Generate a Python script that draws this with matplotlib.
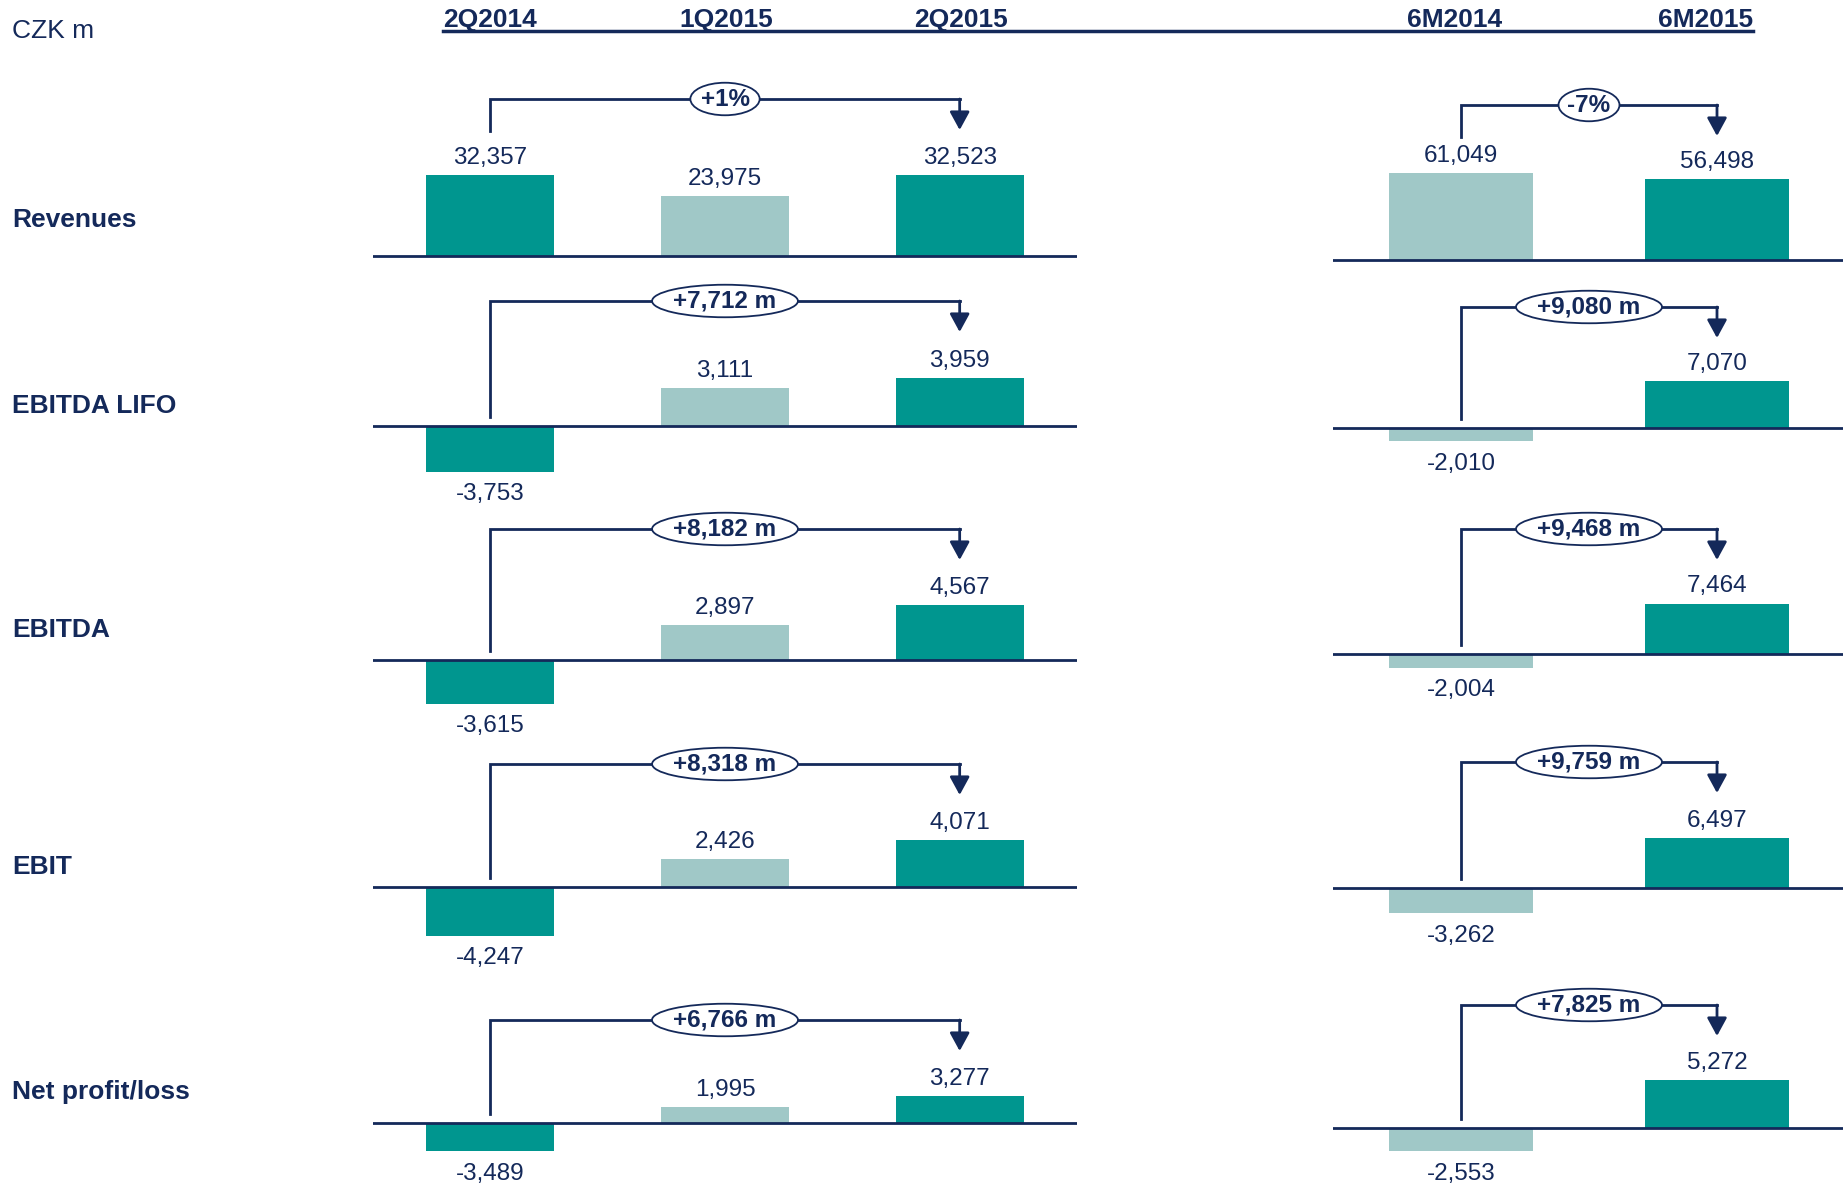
import matplotlib
matplotlib.use('Agg')
import matplotlib.pyplot as plt
from matplotlib.lines import Line2D

plt.rcParams['font.family'] = ['Liberation Sans', 'DejaVu Sans']

W, H = 1843, 1185
NAVY = '#14295a'
DARK = '#00968f'
LIGHT = '#a0c8c7'

# data (CZK m)
metrics = ['Revenues', 'EBITDA LIFO', 'EBITDA', 'EBIT', 'Net profit/loss']
quarters = ['2Q2014', '1Q2015', '2Q2015']
halves = ['6M2014', '6M2015']

q_2q2014 = [32357, -3753, -3615, -4247, -3489]
q_1q2015 = [23975, 3111, 2897, 2426, 1995]
q_2q2015 = [32523, 3959, 4567, 4071, 3277]
h_6m2014 = [61049, -2010, -2004, -3262, -2553]
h_6m2015 = [56498, 7070, 7464, 6497, 5272]

q_change = ['+1%', '+7,712 m', '+8,182 m', '+8,318 m', '+6,766 m']
h_change = ['-7%', '+9,080 m', '+9,468 m', '+9,759 m', '+7,825 m']

# layout, in pixels
q_base = [256, 426, 660, 887, 1123]
h_base = [260, 428, 654, 888, 1128]
q_scale = [400, 82, 83, 87.5, 123]   # CZK m per pixel
h_scale = [700, 152, 148, 130, 110]
q_bracket = [157, 125, 131, 123, 103]
h_bracket = [155, 121, 125, 126, 123]
label_base = [227, 413, 637, 874, 1099]

fig = plt.figure(figsize=(W / 100, H / 100), dpi=100)


def panel(x0, x1, base, scale, ncat):
    top, bot = base - 200, base + 60
    ax = fig.add_axes([x0 / W, 1 - bot / H, (x1 - x0) / W, (bot - top) / H])
    ax.set_xlim(-0.5, ncat - 0.5)
    ax.set_ylim(-60 * scale, 200 * scale)
    ax.axis('off')
    return ax


def draw(ax, vals, colors, width, scale, change, bracket, mid):
    ax.axhline(0, color=NAVY, lw=2, zorder=3)
    xs = list(range(len(vals)))
    ax.bar(xs, vals, width=width, color=colors, zorder=2)
    for x, v in zip(xs, vals):
        dy = 8 if v >= 0 else -20.5
        ax.annotate(f'{v:,}', (x, v), xytext=(0, dy), textcoords='offset points',
                    ha='center', va='baseline', fontsize=17.5, color=NAVY)
    last = xs[-1]
    yb = bracket * scale
    tip = (bracket - 31) * scale
    y0 = (bracket - 32) * scale if vals[0] > 0 else 9.5 * scale
    ax.plot([0, 0, last], [y0, yb, yb], color=NAVY, lw=2, solid_joinstyle='miter', zorder=4)
    ax.annotate('', xy=(last, tip), xytext=(last, yb),
                arrowprops=dict(arrowstyle='-|>,head_length=0.55,head_width=0.3',
                                mutation_scale=20, color=NAVY, lw=2,
                                shrinkA=0, shrinkB=0), zorder=4)
    ax.text(mid, yb, change, ha='center', va='center', fontsize=17.5,
            fontweight='bold', color=NAVY, zorder=6,
            bbox=dict(boxstyle='ellipse,pad=0', fc='white', ec=NAVY, lw=1.3))


for i, name in enumerate(metrics):
    axq = panel(373, 1077, q_base[i], q_scale[i], 3)
    draw(axq, [q_2q2014[i], q_1q2015[i], q_2q2015[i]], [DARK, LIGHT, DARK],
         0.545, q_scale[i], q_change[i], q_bracket[i], 1)
    axh = panel(1333, 1845, h_base[i], h_scale[i], 2)
    draw(axh, [h_6m2014[i], h_6m2015[i]], [LIGHT, DARK],
         0.56, h_scale[i], h_change[i], h_bracket[i], 0.5)
    fig.text(12 / W, 1 - label_base[i] / H, name, va='baseline', fontsize=19,
             fontweight='bold', color=NAVY)

# header
fig.text(12 / W, 1 - 38 / H, 'CZK m', va='baseline', fontsize=19, color=NAVY)
for x, lab in zip([490, 726, 961, 1455, 1706], quarters + halves):
    fig.text(x / W, 1 - 27 / H, lab, ha='center', va='baseline', fontsize=19,
             fontweight='bold', color=NAVY)
fig.add_artist(Line2D([443 / W, 1753 / W], [1 - 31 / H, 1 - 31 / H],
                      transform=fig.transFigure, color=NAVY, lw=2.5))

fig.savefig('out.png', dpi=100)
